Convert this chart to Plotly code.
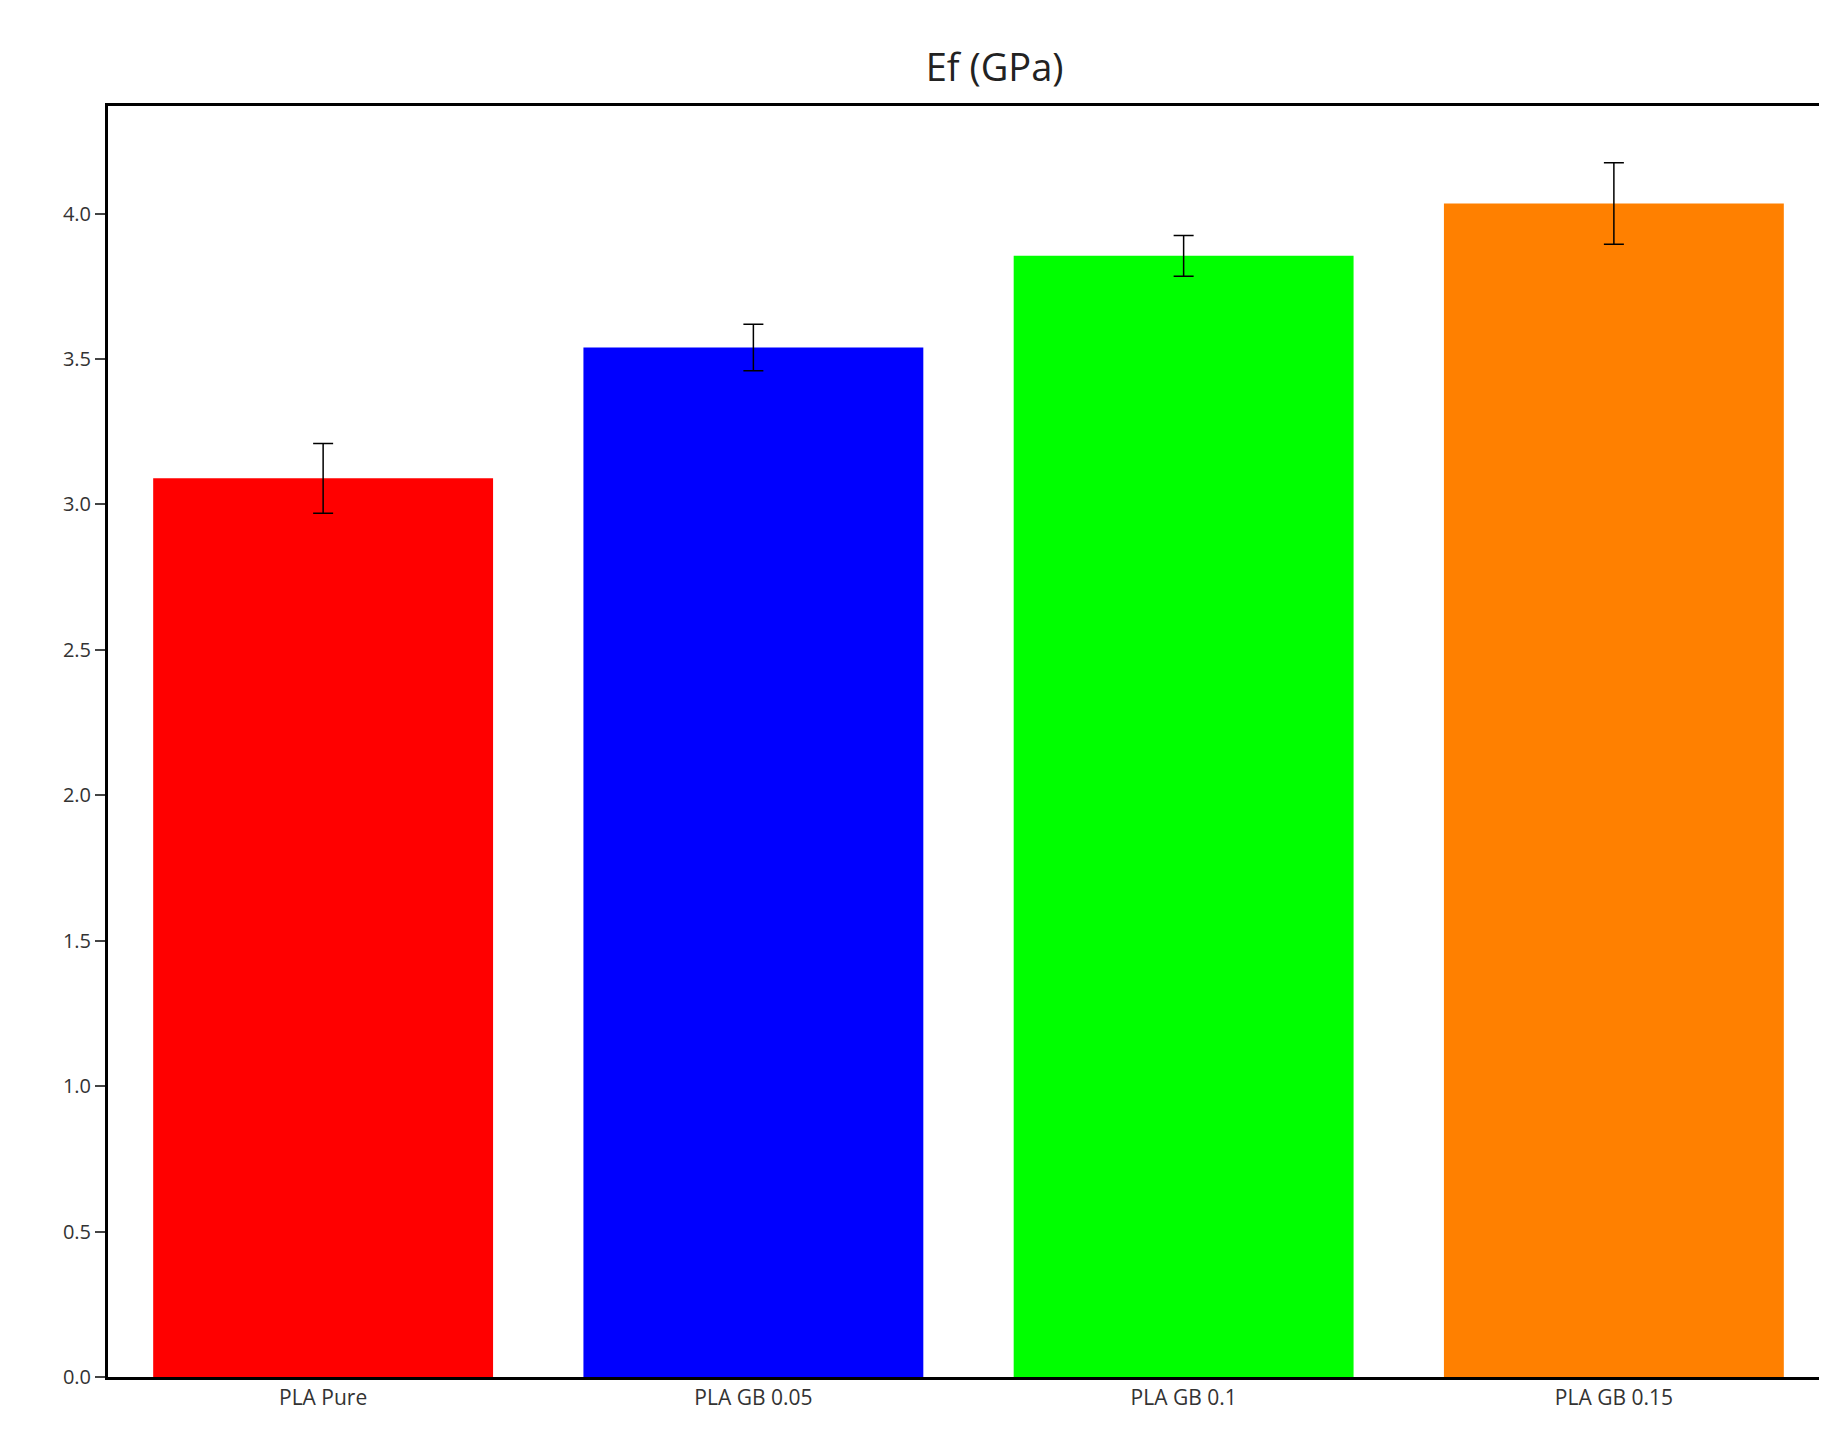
import plotly.graph_objects as go

categories = ["PLA Pure", "PLA GB 0.05", "PLA GB 0.1", "PLA GB 0.15"]
values = [3.09, 3.54, 3.855, 4.035]
errors = [0.12, 0.08, 0.07, 0.14]
colors = ["#ff0000", "#0000ff", "#00ff00", "#ff8000"]

fig = go.Figure()
fig.add_trace(go.Bar(
    x=categories, y=values, width=0.79,
    marker=dict(color=colors, line=dict(width=0)),
    error_y=dict(type="data", array=errors, color="black", thickness=1.5, width=10),
))

fig.update_layout(
    width=1827, height=1449,
    margin=dict(l=100, r=3, t=98, b=80),
    paper_bgcolor="white", plot_bgcolor="white",
    font=dict(family="Open Sans", color="#333"),
    title=dict(text="Ef (GPa)", x=0.54, y=0.968, xanchor="center", font=dict(size=38, color="#222")),
    showlegend=False,
)
fig.update_xaxes(range=[-0.5, 3.5], showline=True, linecolor="black", linewidth=3, mirror=True,
                 ticks="", tickfont=dict(size=21))
fig.update_yaxes(range=[0, 4.37], dtick=0.5, tickformat=".1f", showline=True, linecolor="black",
                 linewidth=3, mirror=True, ticks="outside", ticklen=10, tickwidth=2,
                 showgrid=False, zeroline=False, tickfont=dict(size=20))

fig.write_html("out.html")
